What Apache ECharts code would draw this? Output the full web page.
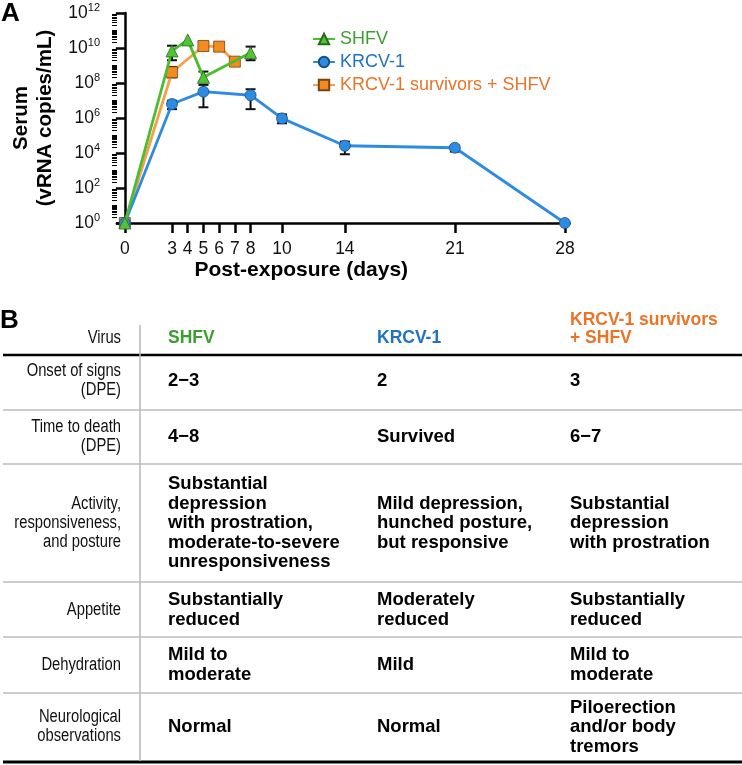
<!DOCTYPE html>
<html>
<head>
<meta charset="utf-8">
<script src="https://cdn.jsdelivr.net/npm/echarts@6/dist/echarts.min.js"></script>
<style>
html,body{margin:0;padding:0;background:#fff;}
#chart{width:742px;height:765px;}
</style>
</head>
<body>
<div id="chart"></div>
<script>
// ---------- Panel A data ----------
const seriesNames = ['SHFV', 'KRCV-1', 'KRCV-1 survivors + SHFV'];

const shfvDays = [0, 3, 4, 5, 8];
const shfvVals = [1, 6.8e9, 2.9e10, 2.1e8, 5.4e9];
const shfvLow  = [null, 2.0e9, null, 1.2e8, 2.0e9];
const shfvHigh = [null, 1.35e10, null, 4.5e8, 1.2e10];

const krcvDays = [0, 3, 5, 8, 10, 14, 21, 28];
const krcvVals = [1, 6.3e6, 3.2e7, 2.0e7, 9.5e5, 2.6e4, 2.0e4, 1];
const krcvLow  = [null, 3.2e6, 4.1e6, 3.2e6, 5.0e5, 8.5e3, 1.2e4, null];
const krcvHigh = [null, 9.8e6, 7.8e7, 4.4e7, 1.6e6, 4.5e4, 2.6e4, null];

const survDays = [0, 3, 5, 6, 7];
const survVals = [1, 4.1e8, 1.3e10, 1.2e10, 1.66e9];
const survLow  = [null, 2.1e8, 7.8e9, 7.2e9, null];
const survHigh = [null, 8.3e8, 2.2e10, 2.0e10, null];

const xTickValues = [0, 3, 4, 5, 6, 7, 8, 10, 14, 21, 28];
const yMajorTicks = [1, 1e2, 1e4, 1e6, 1e8, 1e10, 1e12];

// ---------- Panel B data ----------
const tableHeaderLabel = 'Virus';
const tableColumns = ['SHFV', 'KRCV-1', 'KRCV-1 survivors\n+ SHFV'];
const rowLabels = ['Onset of signs\n(DPE)', 'Time to death\n(DPE)', 'Activity,\nresponsiveness,\nand posture', 'Appetite', 'Dehydration', 'Neurological\nobservations'];
const shfvCol = ['2\u22123', '4\u22128', 'Substantial\ndepression\nwith prostration,\nmoderate-to-severe\nunresponsiveness', 'Substantially\nreduced', 'Mild to\nmoderate', 'Normal'];
const krcvCol = ['2', 'Survived', 'Mild depression,\nhunched posture,\nbut responsive', 'Moderately\nreduced', 'Mild', 'Normal'];
const survCol = ['3', '6\u22127', 'Substantial\ndepression\nwith prostration', 'Substantially\nreduced', 'Mild to\nmoderate', 'Piloerection\nand/or body\ntremors'];

// ---------- styles / layout ----------
const FONT = '"Liberation Sans", Arial, Helvetica, sans-serif';
const lineColors = ['#4cbd30', '#2e8be2', '#f4a04c'];
const markColors = ['#52c236', '#2e8be2', '#f28b22'];
const textColors = ['#3c9e2e', '#1f72c6', '#ea7428'];

const yMinorTicks = [];
for (let n = 0; n < 12; n++) {
  for (let k = 2; k <= 9; k++) yMinorTicks.push(k * Math.pow(10, n));
  if (n % 2 === 1) yMinorTicks.push(Math.pow(10, n));
}

function pts(days, vals) { return days.map((d, i) => [d, vals[i]]); }
function errs(days, lo, hi) {
  const out = [];
  days.forEach((d, i) => { if (lo[i] != null && hi[i] != null) out.push([d, lo[i], hi[i]]); });
  return out;
}
function errorRender(params, api) {
  const x = api.value(0);
  const p1 = api.coord([x, api.value(1)]);
  const p2 = api.coord([x, api.value(2)]);
  const hw = 5;
  const st = { stroke: '#111', lineWidth: 2 };
  return {
    type: 'group',
    children: [
      { type: 'line', shape: { x1: p1[0], y1: p1[1], x2: p2[0], y2: p2[1] }, style: st },
      { type: 'line', shape: { x1: p1[0] - hw, y1: p1[1], x2: p1[0] + hw, y2: p1[1] }, style: st },
      { type: 'line', shape: { x1: p2[0] - hw, y1: p2[1], x2: p2[0] + hw, y2: p2[1] }, style: st }
    ]
  };
}

// table layout
const colX = [168, 377, 570];
const labelX = 121;
const headerY = 338;
const rowCenters = [381, 437, 523, 610, 665, 727];
const rowLines = [410, 464, 582, 637, 693];
const narrow = 0.82; // condensed label face

const graphics = [];
graphics.push({ type: 'text', x: 1, y: 1, style: { text: 'A', font: 'bold 26px ' + FONT, fill: '#000' } });
graphics.push({ type: 'text', x: 0, y: 308, style: { text: 'B', font: 'bold 26px ' + FONT, fill: '#000' } });
graphics.push({ type: 'text', x: labelX, y: headerY, scaleX: narrow, style: { text: tableHeaderLabel, font: '18px ' + FONT, fill: '#111', align: 'right', verticalAlign: 'middle' } });
tableColumns.forEach((t, i) => {
  const multi = t.indexOf('\n') >= 0;
  graphics.push({ type: 'text', x: colX[i], y: multi ? headerY - 9 : headerY,
    style: { text: t, font: 'bold 17.5px ' + FONT, fill: textColors[i], align: 'left', verticalAlign: 'middle', lineHeight: 18 } });
});
graphics.push({ type: 'line', shape: { x1: 3, y1: 355, x2: 742, y2: 355 }, style: { stroke: '#000', lineWidth: 2.5 } });
graphics.push({ type: 'line', shape: { x1: 3, y1: 762, x2: 742, y2: 762 }, style: { stroke: '#000', lineWidth: 3 } });
graphics.push({ type: 'line', shape: { x1: 140, y1: 325, x2: 140, y2: 761 }, style: { stroke: '#b8b8b8', lineWidth: 1.5 } });
rowLines.forEach(y => {
  graphics.push({ type: 'line', shape: { x1: 3, y1: y, x2: 742, y2: y }, style: { stroke: '#bdbdbd', lineWidth: 1.5 } });
});
rowLabels.forEach((t, r) => {
  graphics.push({ type: 'text', x: labelX, y: rowCenters[r], scaleX: narrow,
    style: { text: t, font: '18px ' + FONT, fill: '#111', align: 'right', verticalAlign: 'middle', lineHeight: 19 } });
});
[shfvCol, krcvCol, survCol].forEach((col, c) => {
  col.forEach((t, r) => {
    graphics.push({ type: 'text', x: colX[c], y: rowCenters[r],
      style: { text: t, font: 'bold 18.5px ' + FONT, fill: '#000', align: 'left', verticalAlign: 'middle', lineHeight: 19.5 } });
  });
});

const chart = echarts.init(document.getElementById('chart'), null, { renderer: 'canvas' });
const option = {
  backgroundColor: '#fff',
  animation: false,
  textStyle: { fontFamily: FONT },
  grid: { left: 117, right: 172.4, top: 13, bottom: 542, containLabel: false },
  legend: {
    orient: 'vertical', left: 307, top: 25, itemWidth: 22, itemHeight: 13, itemGap: 5,
    textStyle: { fontSize: 18, fontFamily: FONT },
    data: seriesNames.map((n, i) => ({ name: n, textStyle: { color: textColors[i] } }))
  },
  xAxis: {
    type: 'value', min: -0.5, max: 28.3,
    name: 'Post-exposure (days)', nameLocation: 'middle', nameGap: 37,
    nameTextStyle: { fontSize: 21, fontWeight: 'bold', color: '#000', padding: [0, 84, 0, 0] },
    axisLine: { onZero: false, lineStyle: { color: '#000', width: 2.5 } },
    axisTick: { customValues: xTickValues, length: 10, lineStyle: { color: '#000', width: 2.5 } },
    axisLabel: { customValues: xTickValues, fontSize: 17.5, color: '#111', margin: 17 },
    splitLine: { show: false }
  },
  yAxis: [{
    type: 'log', logBase: 10, min: 1, max: 1e12,
    name: 'Serum\n(vRNA copies/mL)', nameLocation: 'middle', nameRotate: 90, nameGap: 60,
    nameTextStyle: { fontSize: 20.5, fontWeight: 'bold', color: '#000', lineHeight: 24, align: 'center' },
    axisLine: { show: true, lineStyle: { color: '#000', width: 2.5 } },
    axisTick: { customValues: yMajorTicks, length: 9, lineStyle: { color: '#000', width: 2.5 } },
    axisLabel: {
      customValues: yMajorTicks, margin: 17,
      formatter: v => '{b|10}{s|' + Math.round(Math.log10(v)) + '}',
      rich: {
        b: { fontSize: 17.5, color: '#111', lineHeight: 22, fontFamily: FONT },
        s: { fontSize: 11, color: '#111', lineHeight: 12, verticalAlign: 'top', fontFamily: FONT }
      }
    },
    splitLine: { show: false }
  }, {
    type: 'log', logBase: 10, min: 1, max: 1e12, position: 'left', offset: 0,
    axisLine: { show: false },
    axisTick: { show: true, customValues: yMinorTicks, length: 5, lineStyle: { color: '#000', width: 1 } },
    axisLabel: { show: false },
    splitLine: { show: false }
  }],
  series: [
    { type: 'custom', name: 'err-shfv', renderItem: errorRender, data: errs(shfvDays, shfvLow, shfvHigh), encode: { x: 0, y: [1, 2] }, z: 2, silent: true },
    { type: 'custom', name: 'err-krcv', renderItem: errorRender, data: errs(krcvDays, krcvLow, krcvHigh), encode: { x: 0, y: [1, 2] }, z: 2, silent: true },
    { type: 'custom', name: 'err-surv', renderItem: errorRender, data: errs(survDays, survLow, survHigh), encode: { x: 0, y: [1, 2] }, z: 2, silent: true },
    {
      type: 'line', name: seriesNames[2], data: pts(survDays, survVals), z: 3,
      symbol: 'rect', symbolSize: 11,
      lineStyle: { color: lineColors[2], width: 2.8 },
      itemStyle: { color: markColors[2], borderColor: '#7a4210', borderWidth: 0.8 }
    },
    {
      type: 'line', name: seriesNames[1], data: pts(krcvDays, krcvVals), z: 4,
      symbol: 'circle', symbolSize: 11,
      lineStyle: { color: lineColors[1], width: 2.8 },
      itemStyle: { color: markColors[1], borderColor: '#1a4f86', borderWidth: 0.8 }
    },
    {
      type: 'line', name: seriesNames[0], data: pts(shfvDays, shfvVals), z: 5,
      symbol: 'triangle', symbolSize: 12,
      lineStyle: { color: lineColors[0], width: 2.8 },
      itemStyle: { color: markColors[0], borderColor: '#256b18', borderWidth: 0.8 }
    }
  ],
  graphic: graphics
};
chart.setOption(option);
</script>
</body>
</html>
